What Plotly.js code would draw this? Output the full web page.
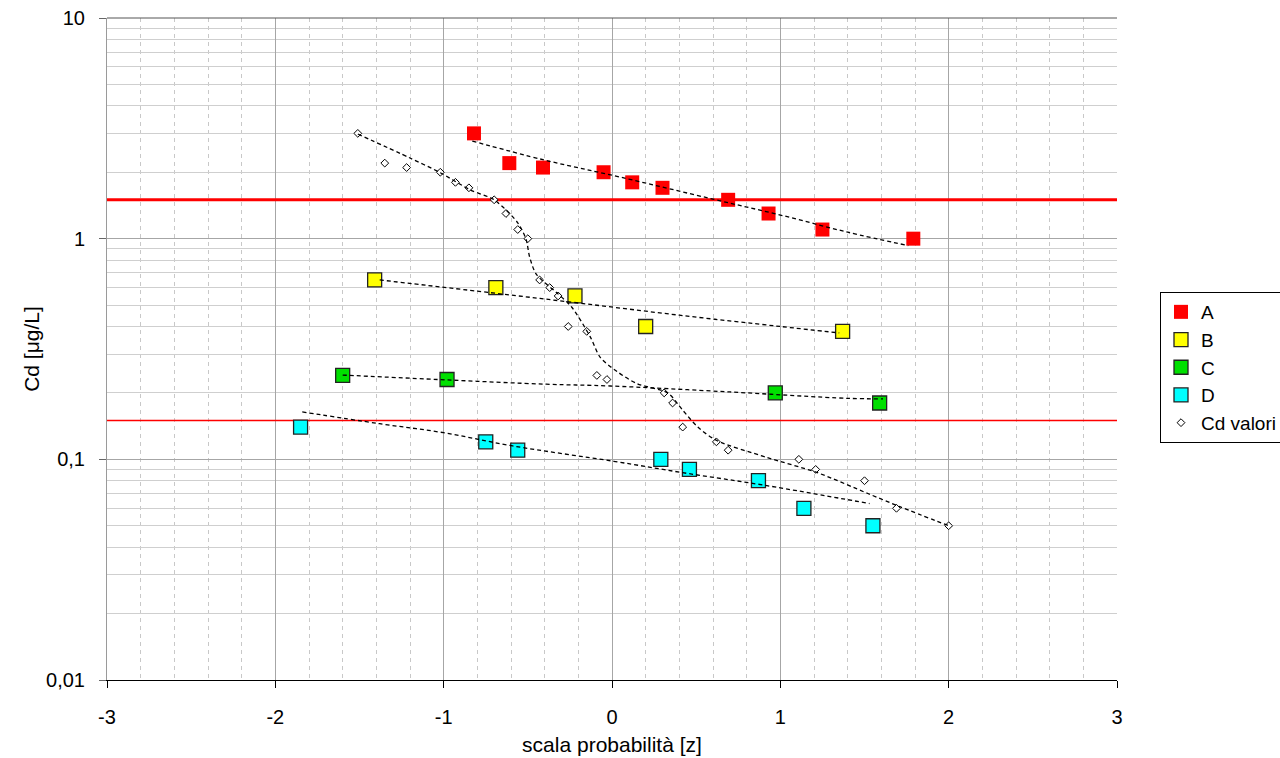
<!DOCTYPE html>
<html><head><meta charset="utf-8">
<script src="https://cdn.plot.ly/plotly-3.0.1.min.js"></script>
<style>html,body{margin:0;padding:0;background:#fff;overflow:hidden}#chart{width:1280px;height:758px}</style>
</head><body><div id="chart"></div>
<script>
// ---- data ----
const A_z  = [-0.82, -0.61, -0.41, -0.05, 0.12, 0.30, 0.69, 0.93, 1.25, 1.79];
const A_cd = [3.0, 2.2, 2.1, 2.0, 1.8, 1.7, 1.5, 1.3, 1.1, 1.0];
const B_z  = [-1.41, -0.69, -0.22, 0.20, 1.37];
const B_cd = [0.65, 0.60, 0.55, 0.40, 0.38];
const C_z  = [-1.60, -0.98, 0.97, 1.59];
const C_cd = [0.24, 0.23, 0.20, 0.18];
const D_z  = [-1.85, -0.75, -0.56, 0.29, 0.46, 0.87, 1.14, 1.55];
const D_cd = [0.14, 0.12, 0.11, 0.10, 0.09, 0.08, 0.06, 0.05];
const N_z  = [-1.51, -1.35, -1.22, -1.02, -0.93, -0.85, -0.70, -0.63, -0.56, -0.50, -0.43, -0.37, -0.32, -0.26, -0.15, -0.09, -0.03, 0.31, 0.36, 0.42, 0.62, 0.69, 1.11, 1.21, 1.50, 1.69, 2.00];
const N_cd = [3.0, 2.2, 2.1, 2.0, 1.8, 1.7, 1.5, 1.3, 1.1, 1.0, 0.65, 0.60, 0.55, 0.40, 0.38, 0.24, 0.23, 0.20, 0.18, 0.14, 0.12, 0.11, 0.10, 0.09, 0.08, 0.06, 0.05];

// trend lines
const A_trend_z  = [-0.83, -0.41, 0.05, 0.60, 1.00, 1.40, 1.76];
const A_trend_cd = [2.77, 2.28, 1.90, 1.51, 1.28, 1.07, 0.93];
const B_trend_z  = [-1.38, -0.73, -0.19, 0.40, 1.00, 1.35];
const B_trend_cd = [0.65, 0.57, 0.51, 0.45, 0.40, 0.374];
const C_trend_z  = [-1.60, -0.98, -0.39, -0.01, 0.70, 1.40, 1.61];
const C_trend_cd = [0.241, 0.229, 0.219, 0.215, 0.202, 0.189, 0.188];
const D_trend_z  = [-1.84, -1.38, -1.00, -0.59, 0.01, 0.42, 0.92, 1.53];
const D_trend_cd = [0.164, 0.145, 0.132, 0.115, 0.098, 0.087, 0.076, 0.063];
const N_trend_z  = [-1.51, -1.20, -1.02, -0.84, -0.70, -0.56, -0.51, -0.49, -0.45, -0.33, -0.24, -0.13, -0.07, 0.03, 0.15, 0.33, 0.42, 0.51, 0.62, 0.92, 1.22, 1.52, 1.71, 2.00];
const N_trend_cd = [2.98, 2.32, 1.99, 1.66, 1.50, 1.18, 0.99, 0.83, 0.69, 0.57, 0.49, 0.36, 0.29, 0.25, 0.22, 0.20, 0.167, 0.140, 0.122, 0.102, 0.087, 0.070, 0.061, 0.050];

// threshold lines
const limit_z = [-3, 3];
const limit_high = [1.5, 1.5];
const limit_low = [0.15, 0.15];

const xTicks = [-3, -2, -1, 0, 1, 2, 3];
const xTickText = ['-3', '-2', '-1', '0', '1', '2', '3'];
const yTicks = [0.01, 0.1, 1, 10];
const yTickText = ['0,01', '0,1', '1', '10'];

const seriesNames = ['A', 'B', 'C', 'D', 'Cd valori naturali'];

// ---- traces ----
const FONT = 'Arial, "Liberation Sans", sans-serif';
const trendStyle = {color: '#000000', width: 1.3, dash: '4px,3px'};

const traces = [
  {x: limit_z, y: limit_high, mode: 'lines', line: {color: '#ff0000', width: 3}, showlegend: false, hoverinfo: 'skip'},
  {x: limit_z, y: limit_low, mode: 'lines', line: {color: '#ff0000', width: 1.5}, showlegend: false, hoverinfo: 'skip'},
  {x: A_z, y: A_cd, name: seriesNames[0], mode: 'markers',
   marker: {symbol: 'square', size: 14, color: '#ff0000', line: {color: '#ff0000', width: 0}}},
  {x: B_z, y: B_cd, name: seriesNames[1], mode: 'markers',
   marker: {symbol: 'square', size: 14, color: '#ffff00', line: {color: '#222222', width: 1.3}}},
  {x: C_z, y: C_cd, name: seriesNames[2], mode: 'markers',
   marker: {symbol: 'square', size: 14, color: '#00e000', line: {color: '#222222', width: 1.3}}},
  {x: D_z, y: D_cd, name: seriesNames[3], mode: 'markers',
   marker: {symbol: 'square', size: 14, color: '#00ffff', line: {color: '#222222', width: 1.3}}},
  {x: N_z, y: N_cd, name: seriesNames[4], mode: 'markers',
   marker: {symbol: 'diamond', size: 6, color: '#ffffff', line: {color: '#000000', width: 1}}},
  {x: A_trend_z, y: A_trend_cd, mode: 'lines', line: Object.assign({shape: 'spline'}, trendStyle), showlegend: false, hoverinfo: 'skip'},
  {x: B_trend_z, y: B_trend_cd, mode: 'lines', line: Object.assign({shape: 'spline'}, trendStyle), showlegend: false, hoverinfo: 'skip'},
  {x: C_trend_z, y: C_trend_cd, mode: 'lines', line: Object.assign({shape: 'spline'}, trendStyle), showlegend: false, hoverinfo: 'skip'},
  {x: D_trend_z, y: D_trend_cd, mode: 'lines', line: Object.assign({shape: 'spline'}, trendStyle), showlegend: false, hoverinfo: 'skip'},
  {x: N_trend_z, y: N_trend_cd, mode: 'lines', line: Object.assign({shape: 'spline', smoothing: 0.8}, trendStyle), showlegend: false, hoverinfo: 'skip'}
];

const layout = {
  width: 1280, height: 758,
  margin: {l: 107, r: 163, t: 18, b: 78, pad: 0},
  paper_bgcolor: '#ffffff', plot_bgcolor: '#ffffff',
  font: {family: FONT, size: 19, color: '#000000'},
  showlegend: true,
  legend: {
    xref: 'container', yref: 'container',
    x: 1160 / 1280, xanchor: 'left', y: 1 - 292 / 758, yanchor: 'top',
    bgcolor: '#ffffff', bordercolor: '#000000', borderwidth: 1,
    font: {family: FONT, size: 19, color: '#000000'},
    traceorder: 'normal', itemwidth: 30
  },
  xaxis: {
    range: [-3, 3], autorange: false,
    tickmode: 'array', tickvals: xTicks, ticktext: xTickText,
    ticks: 'outside', ticklen: 7, tickcolor: '#000000', tickwidth: 1,
    showline: true, linecolor: '#000000', linewidth: 1,
    showgrid: true, gridcolor: '#a6a6a6', gridwidth: 1,
    zeroline: false,
    minor: {dtick: 0.2, tick0: 0, showgrid: true, gridcolor: '#c8c8c8', griddash: '4px,4px', gridwidth: 1, ticks: ''},
    ticklabelstandoff: 12,
    tickfont: {family: FONT, size: 20, color: '#000000'},
    title: {text: 'scala probabilità [z]', font: {family: FONT, size: 21, color: '#000000'}, standoff: 10}
  },
  yaxis: {
    type: 'log', range: [-2, 1], autorange: false,
    tickmode: 'array', tickvals: yTicks, ticktext: yTickText,
    ticks: 'outside', ticklen: 7, tickcolor: '#666666', tickwidth: 1,
    showline: true, linecolor: '#9a9a9a', linewidth: 1,
    showgrid: true, gridcolor: '#a6a6a6', gridwidth: 1,
    zeroline: false,
    minor: {dtick: 'D1', showgrid: true, gridcolor: '#cfcfcf', gridwidth: 1, ticks: ''},
    ticklabelstandoff: 10,
    tickfont: {family: FONT, size: 20, color: '#000000'},
    title: {text: 'Cd [μg/L]', font: {family: FONT, size: 21, color: '#000000'}, standoff: 0}
  },
  shapes: [
    {type: 'line', xref: 'paper', yref: 'paper', x0: 0, x1: 1, y0: 1, y1: 1, line: {color: '#555555', width: 1}}
  ]
};

Plotly.newPlot('chart', traces, layout, {displayModeBar: false, staticPlot: true});
</script></body></html>
